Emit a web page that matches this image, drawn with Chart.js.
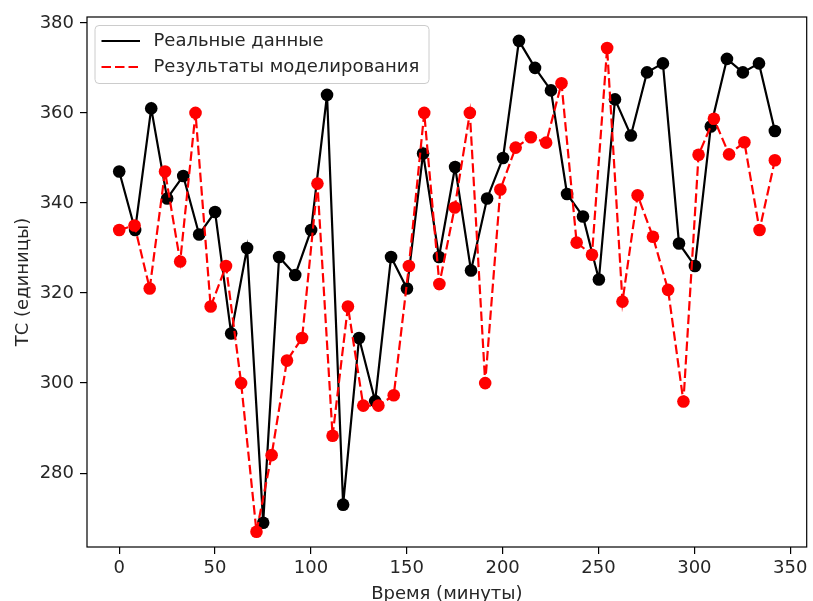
<!DOCTYPE html>
<html>
<head>
<meta charset="utf-8">
<script src="https://cdn.jsdelivr.net/npm/chart.js@4/dist/chart.umd.min.js"></script>
<style>
  html, body { margin: 0; padding: 0; background: #ffffff; }
  #c { display: block; }
</style>
</head>
<body>
<canvas id="c" width="813" height="601"></canvas>
<script>
// ---- data ----
const realTime = [0, 8.3, 16.7, 25.0, 33.4, 41.7, 50.0, 58.4, 66.7, 75.1, 83.4, 91.8, 100.1, 108.4, 116.8, 125.1, 133.5, 141.8, 150.1, 158.5, 166.8, 175.2, 183.5, 191.9, 200.2, 208.5, 216.9, 225.2, 233.6, 241.9, 250.2, 258.6, 266.9, 275.3, 283.6, 292.0, 300.3, 308.6, 317.0, 325.3, 333.7, 342.0];
const realValues = [347, 334, 361, 341, 346, 333, 338, 311, 330, 269,
                    328, 324, 334, 364, 273, 310, 296, 328, 321, 351,
                    328, 348, 325, 341, 350, 376, 370, 365, 342, 337,
                    323, 363, 355, 369, 371, 331, 326, 357, 372, 369,
                    371, 356];
const simTime = [0, 8.0, 15.9, 23.9, 31.8, 39.8, 47.7, 55.7, 63.6, 71.6, 79.5, 87.5, 95.4, 103.4, 111.3, 119.3, 127.3, 135.2, 143.2, 151.1, 159.1, 167.0, 175.0, 182.9, 190.9, 198.8, 206.8, 214.7, 222.7, 230.7, 238.6, 246.6, 254.5, 262.5, 270.4, 278.4, 286.3, 294.3, 302.2, 310.2, 318.1, 326.1, 334.0, 342.0];
const simValues = [334, 335, 321, 347, 327, 360, 317, 326, 300, 267,
                   284, 305, 310, 344.3, 288.3, 317, 295, 295, 297.3, 326,
                   360, 322, 339, 360, 300, 343, 352.3, 354.6, 353.4, 366.6,
                   331.2, 328.5, 374.4, 318.1, 341.7, 332.5, 320.7, 295.9, 350.7, 358.7,
                   350.8, 353.5, 334, 349.5];
const xTicks = [0, 50, 100, 150, 200, 250, 300, 350];
const yTicks = [280, 300, 320, 340, 360, 380];
const labelReal = 'Реальные данные';
const labelSim = 'Результаты моделирования';
const xTitle = 'Время (минуты)';
const yTitle = 'ТС (единицы)';

const FONT = 'DejaVu Sans';
const FS = 18;
const TXT = '#262626';

const frameAndLegend = {
  id: 'frameAndLegend',
  afterDraw(chart) {
    const ctx = chart.ctx;
    const a = chart.chartArea;
    ctx.save();
    // spines
    ctx.strokeStyle = '#000';
    ctx.lineWidth = 1.2;
    ctx.strokeRect(a.left, a.top, a.right - a.left, a.bottom - a.top);
    // legend box
    const bx = a.left + 8, by = a.top + 8.5, bw = 334, bh = 58, r = 4;
    ctx.beginPath();
    ctx.moveTo(bx + r, by);
    ctx.lineTo(bx + bw - r, by);
    ctx.arcTo(bx + bw, by, bx + bw, by + r, r);
    ctx.lineTo(bx + bw, by + bh - r);
    ctx.arcTo(bx + bw, by + bh, bx + bw - r, by + bh, r);
    ctx.lineTo(bx + r, by + bh);
    ctx.arcTo(bx, by + bh, bx, by + bh - r, r);
    ctx.lineTo(bx, by + r);
    ctx.arcTo(bx, by, bx + r, by, r);
    ctx.closePath();
    ctx.fillStyle = 'rgba(255,255,255,0.85)';
    ctx.fill();
    ctx.strokeStyle = '#cccccc';
    ctx.lineWidth = 1;
    ctx.stroke();
    const entries = [chart.data.datasets[0], chart.data.datasets[1]];
    entries.forEach((ds, i) => {
      const y = by + 15.5 + i * 26;
      ctx.beginPath();
      ctx.setLineDash(ds.borderDash || []);
      ctx.strokeStyle = ds.borderColor;
      ctx.lineWidth = ds.borderWidth;
      ctx.moveTo(bx + 6.5, y);
      ctx.lineTo(bx + 45, y);
      ctx.stroke();
      ctx.setLineDash([]);
      ctx.fillStyle = TXT;
      ctx.font = FS + 'px "' + FONT + '"';
      ctx.textBaseline = 'middle';
      ctx.textAlign = 'left';
      ctx.fillText(ds.label, bx + 58.5, y + 0.5);
    });
    ctx.restore();
  }
};

new Chart(document.getElementById('c'), {
  type: 'line',
  data: {
    datasets: [
      {
        label: labelReal,
        data: realTime.map((t, i) => ({ x: t, y: realValues[i] })),
        borderColor: '#000000',
        backgroundColor: '#000000',
        borderWidth: 2.2,
        pointRadius: 6.3,
        pointBorderWidth: 0,
        pointHoverRadius: 6.3,
        tension: 0,
        order: 2
      },
      {
        label: labelSim,
        data: simTime.map((t, i) => ({ x: t, y: simValues[i] })),
        borderColor: '#ff0000',
        backgroundColor: '#ff0000',
        borderWidth: 2.2,
        borderDash: [9.5, 4],
        pointRadius: 6.3,
        pointBorderWidth: 0,
        pointHoverRadius: 6.3,
        tension: 0,
        order: 1
      }
    ]
  },
  options: {
    responsive: false,
    animation: false,
    devicePixelRatio: 1,
    layout: { padding: { top: 17, right: 4, left: 0, bottom: 0 } },
    plugins: {
      legend: { display: false },
      tooltip: { enabled: false }
    },
    scales: {
      x: {
        type: 'linear',
        min: -16.8,
        max: 358.6,
        afterBuildTicks: (s) => { s.ticks = xTicks.map(v => ({ value: v })); },
        afterFit: (s) => { s.height = 54; },
        border: { display: false },
        grid: { drawOnChartArea: false, drawTicks: true, tickLength: 7, tickColor: '#000', lineWidth: 1.2 },
        ticks: { color: TXT, font: { family: FONT, size: FS }, padding: 4, maxRotation: 0 },
        title: { display: true, text: xTitle, color: TXT, font: { family: FONT, size: FS }, padding: { top: 0, bottom: -4 } }
      },
      y: {
        type: 'linear',
        min: 263.6,
        max: 381.3,
        afterBuildTicks: (s) => { s.ticks = yTicks.map(v => ({ value: v })); },
        afterFit: (s) => { s.width = 87; },
        border: { display: false },
        grid: { drawOnChartArea: false, drawTicks: true, tickLength: 7, tickColor: '#000', lineWidth: 1.2 },
        ticks: { color: TXT, font: { family: FONT, size: FS }, padding: 6 },
        title: { display: true, text: yTitle, color: TXT, font: { family: FONT, size: FS }, padding: { top: 12.5, bottom: 0 } }
      }
    }
  },
  plugins: [frameAndLegend]
});
</script>
</body>
</html>
